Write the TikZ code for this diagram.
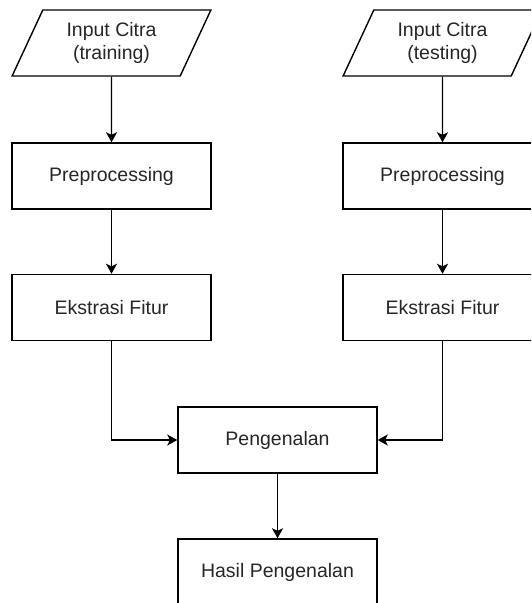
\documentclass[tikz,border=0pt]{standalone}
\usepackage{fontspec}
\setmainfont{Liberation Sans}
\usepackage{tikz}
\usetikzlibrary{shapes.geometric, arrows.meta}

\begin{document}
\begin{tikzpicture}[
  x=1pt, y=-1pt,
  font=\fontsize{19.5}{23}\selectfont,
  line width=1.4pt,
  proc/.style={draw, rectangle, minimum width=199pt, minimum height=66pt,
    inner sep=0pt, text=black!85},
  io/.style={draw, trapezium, trapezium left angle=64, trapezium right angle=116,
    trapezium stretches=true, minimum width=199pt, minimum height=66pt,
    inner sep=0pt, align=center, text=black!85},
  arr/.style={-{Stealth[length=10pt, width=11pt, inset=2.5pt]}}
]
  \clip (0,0) rectangle (531,603);

  % Training branch
  \node[io]   (inTrain)  at (111.5,43)  {Input Citra\\(training)};
  \node[proc] (preTrain) at (111.5,176) {Preprocessing};
  \node[proc] (ekTrain)  at (111.5,307.5) {Ekstrasi Fitur};

  % Testing branch
  \node[io]   (inTest)  at (442.5,43)  {Input Citra\\(testing)};
  \node[proc] (preTest) at (442.5,176) {Preprocessing};
  \node[proc] (ekTest)  at (442.5,307.5) {Ekstrasi Fitur};

  % Recognition
  \node[proc] (kenal) at (277.5,440) {Pengenalan};
  \node[proc] (hasil) at (277.5,572) {Hasil Pengenalan};

  % Connectors
  \draw[arr] (inTrain) -- (preTrain);
  \draw[arr] (preTrain) -- (ekTrain);
  \draw[arr] (inTest) -- (preTest);
  \draw[arr] (preTest) -- (ekTest);
  \draw[arr] (ekTrain) |- (kenal);
  \draw[arr] (ekTest) |- (kenal);
  \draw[arr] (kenal) -- (hasil);
\end{tikzpicture}
\end{document}
